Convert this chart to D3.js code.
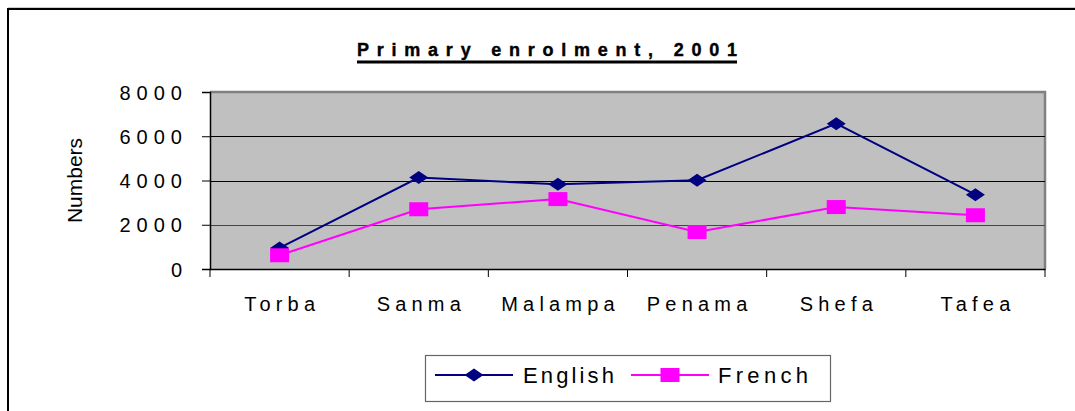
<!DOCTYPE html>
<html>
<head>
<meta charset="utf-8">
<script src="https://cdn.jsdelivr.net/npm/d3@7/dist/d3.min.js"></script>
<style>
  html, body { margin: 0; padding: 0; background: #fff; }
  svg { display: block; }
  text { font-family: "Liberation Sans", Arial, sans-serif; fill: #000; }
</style>
</head>
<body>
<svg id="chart" width="1075" height="411"></svg>
<script>
const categories = ["Torba", "Sanma", "Malampa", "Penama", "Shefa", "Tafea"];
const english = [950, 4130, 3830, 4010, 6570, 3360];
const french = [620, 2700, 3160, 1670, 2800, 2430];
const yTicks = [0, 2000, 4000, 6000, 8000];
const seriesNames = ["English", "French"];
const titleText = "Primary enrolment, 2001";
const yTitle = "Numbers";

const svg = d3.select("#chart");
const W = 1075, H = 411;
const m = { left: 210, right: 1045, top: 92, bottom: 269 };

// outer border
svg.append("rect").attr("x", 8).attr("y", 9).attr("width", W + 10).attr("height", H + 10)
  .attr("fill", "#fff").attr("stroke", "#000").attr("stroke-width", 2);
svg.append("line").attr("x1", 8).attr("x2", W).attr("y1", 7.5).attr("y2", 7.5)
  .attr("stroke", "#ccc").attr("stroke-width", 1);

const x = d3.scaleBand().domain(categories).range([m.left, m.right]).paddingInner(0).paddingOuter(0);
const y = d3.scaleLinear().domain([0, 8000]).range([m.bottom, m.top]);
const cx = d => x(d) + x.bandwidth() / 2;

// plot area
svg.append("rect").attr("x", m.left).attr("y", m.top)
  .attr("width", m.right - m.left).attr("height", m.bottom - m.top)
  .attr("fill", "#C0C0C0");
svg.append("path")
  .attr("d", `M${m.left},${m.top} H${m.right} V${m.bottom}`)
  .attr("fill", "none").attr("stroke", "#808080").attr("stroke-width", 2.5);

// gridlines
svg.append("g").selectAll("line").data(yTicks.filter(t => t > 0 && t < 8000)).join("line")
  .attr("x1", m.left).attr("x2", m.right)
  .attr("y1", d => Math.round(y(d)) + 0.5).attr("y2", d => Math.round(y(d)) + 0.5)
  .attr("stroke", d => d === 2000 ? "#444" : "#000").attr("stroke-width", 1);

// y axis
const yAxis = svg.append("g").attr("transform", `translate(${m.left},0)`)
  .call(d3.axisLeft(y).tickValues(yTicks).tickSize(8).tickPadding(20).tickFormat(d3.format("d")));
yAxis.select(".domain").attr("stroke", "#000").attr("stroke-width", 1.5);
yAxis.selectAll(".tick line").attr("stroke", "#000");
yAxis.selectAll(".tick text")
  .style("font-family", "'Liberation Sans', Arial, sans-serif")
  .style("font-size", "20px").style("letter-spacing", "6px")
  .attr("x", -22).attr("dy", "0.36em").attr("fill", "#000");

// x axis
const xAxis = svg.append("g").attr("transform", `translate(0,${m.bottom})`)
  .call(d3.axisBottom(x).tickSize(0).tickPadding(28));
xAxis.select(".domain").attr("stroke", "#000").attr("stroke-width", 1.5);
xAxis.selectAll(".tick text")
  .style("font-family", "'Liberation Sans', Arial, sans-serif")
  .style("font-size", "20px").style("letter-spacing", "5.2px")
  .attr("dx", "2.6px").attr("fill", "#000");
const bounds = categories.map(c => x(c)).concat([m.right]);
svg.append("g").selectAll("line").data(bounds).join("line")
  .attr("x1", d => d).attr("x2", d => d)
  .attr("y1", m.bottom).attr("y2", m.bottom + 8)
  .attr("stroke", "#000").attr("stroke-width", 1);

// y title
svg.append("text")
  .attr("transform", `translate(82,${(m.top + m.bottom) / 2}) rotate(-90)`)
  .attr("text-anchor", "middle")
  .style("font-size", "21px")
  .text(yTitle);

// title
svg.append("text")
  .attr("x", 357).attr("y", 56)
  .attr("textLength", 380).attr("lengthAdjust", "spacing")
  .attr("stroke", "#000").attr("stroke-width", 0.4)
  .style("font-size", "18px").style("font-weight", "bold")
  .text(titleText);
svg.append("rect").attr("x", 357).attr("y", 60.5).attr("width", 380).attr("height", 3).attr("fill", "#000");

// markers
const diamond = (px, py) => `M${px},${py - 6.5} L${px + 9.5},${py} L${px},${py + 6.5} L${px - 9.5},${py} Z`;
const colors = { English: "#000080", French: "#FF00FF" };
const seriesData = { English: english, French: french };

const line = d3.line().x((d, i) => cx(categories[i])).y(d => y(d));

seriesNames.forEach(name => {
  svg.append("path").datum(seriesData[name])
    .attr("d", line).attr("fill", "none")
    .attr("stroke", colors[name]).attr("stroke-width", 2);
});
svg.append("g").selectAll("path").data(english).join("path")
  .attr("d", (d, i) => diamond(cx(categories[i]), y(d)))
  .attr("fill", colors.English);
svg.append("g").selectAll("rect").data(french).join("rect")
  .attr("x", (d, i) => cx(categories[i]) - 9.5).attr("y", d => y(d) - 7)
  .attr("width", 19).attr("height", 14)
  .attr("fill", colors.French);

// legend
const lg = svg.append("g");
lg.append("rect").attr("x", 425.5).attr("y", 355.5).attr("width", 405).attr("height", 46)
  .attr("fill", "#fff").attr("stroke", "#666").attr("stroke-width", 1.2);
const ly = 375;
const legendItems = [
  { name: "English", x0: 435, x1: 513, tx: 523, tlen: 91 },
  { name: "French", x0: 631, x1: 709, tx: 718, tlen: 90 }
];
legendItems.forEach(it => {
  lg.append("line").attr("x1", it.x0).attr("x2", it.x1).attr("y1", ly).attr("y2", ly)
    .attr("stroke", colors[it.name]).attr("stroke-width", 2);
  const mx = (it.x0 + it.x1) / 2;
  if (it.name === "English") {
    lg.append("path").attr("d", diamond(mx, ly)).attr("fill", colors.English);
  } else {
    lg.append("rect").attr("x", mx - 9.5).attr("y", ly - 7).attr("width", 19).attr("height", 14)
      .attr("fill", colors.French);
  }
  lg.append("text").attr("x", it.tx).attr("y", ly + 8)
    .attr("textLength", it.tlen).attr("lengthAdjust", "spacing")
    .style("font-size", "22px").text(it.name);
});
</script>
</body>
</html>
